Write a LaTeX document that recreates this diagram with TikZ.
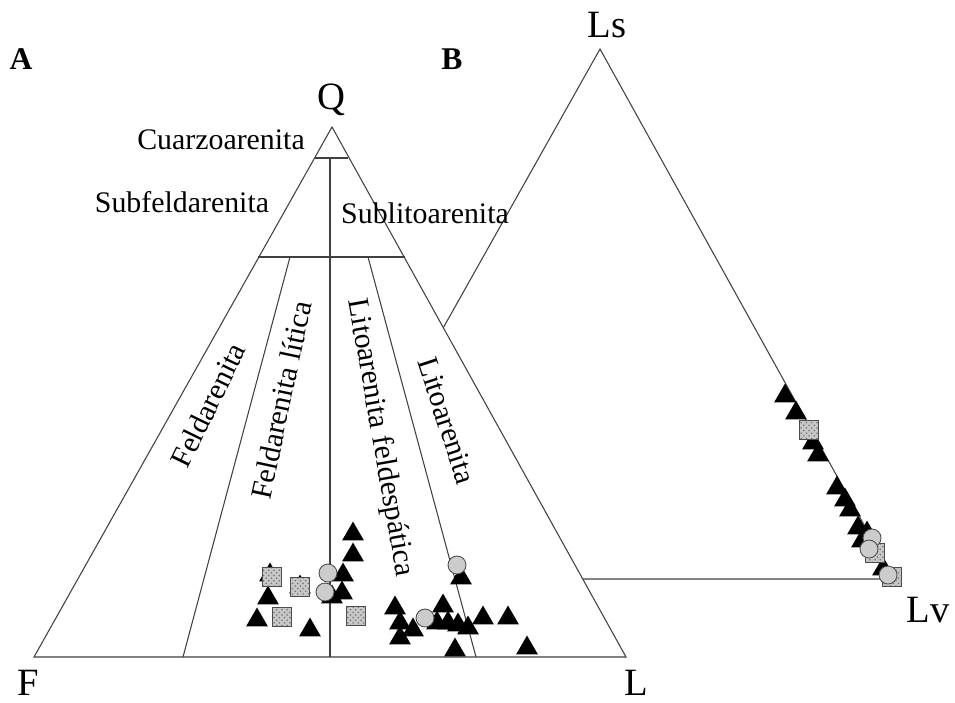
\documentclass[tikz,border=0pt]{standalone}
\usepackage{fontspec}
\setmainfont{Liberation Serif}
\usetikzlibrary{shapes.geometric,patterns}
\tikzset{
	tline/.style={draw=black!75,line width=0.6pt},
	region/.style={font=\fontsize{17}{20}\selectfont,inner sep=0pt},
	apex/.style={font=\fontsize{22}{26}\selectfont,inner sep=0pt},
	panel/.style={font=\fontsize{18}{21}\selectfont\bfseries,inner sep=0pt},
	ptri/.style={regular polygon,regular polygon sides=3,fill=black,minimum size=0.5cm,inner sep=0pt},
	pcirc/.style={circle,fill=black!20,draw=black!70,line width=0.5pt,minimum size=0.36cm,inner sep=0pt},
	psq/.style={rectangle,preaction={fill=black!22},pattern=crosshatch dots,pattern color=black!55,draw=black!70,line width=0.5pt,minimum size=0.38cm,inner sep=0pt}
}
\begin{document}
\begin{tikzpicture}[x=0.02cm,y=-0.02cm]
			\useasboundingbox (0,0) rectangle (955,702);
			\coordinate (F) at (34,657);
			\coordinate (L) at (626,657);
			\coordinate (Q) at (332,127);
			\coordinate (Lb) at (302,579);
			\coordinate (Lv) at (894,579);
			\coordinate (Ls) at (600,49);
			\draw[tline] (Lb) -- (Ls) -- (Lv) -- cycle;
			\draw[tline,fill=white] (F) -- (Q) -- (L) -- cycle;
			\coordinate (c1) at (315,158);
			\coordinate (c2) at (348,158);
			\coordinate (s1) at (258,257);
			\coordinate (s2) at (405,257);
			\coordinate (m1) at (290,257);
			\coordinate (m2) at (368,257);
			\coordinate (b1) at (183,657);
			\coordinate (b2) at (476,657);
			\coordinate (v1) at (330,158);
			\coordinate (v2) at (330,657);
			\draw[tline] (c1) -- (c2);
			\draw[tline] (s1) -- (s2);
			\draw[tline] (v1) -- (v2);
			\draw[tline] (m1) -- (b1);
			\draw[tline] (m2) -- (b2);
			\node[panel] (pA) at (21,59) {A};
			\node[panel] (pB) at (452,59) {B};
			\node[apex] (nQ) at (331,100) {Q};
			\node[apex] (nF) at (28,683) {F};
			\node[apex] (nL) at (636,683) {L};
			\node[apex] (nLs) at (607,25) {Ls};
			\node[apex] (nLv) at (928,610) {Lv};
			\node[region] (cuarzo) at (221,140) {Cuarzoarenita};
			\node[region] (subfeld) at (182,202) {Subfeldarenita};
			\node[region] (sublito) at (425,213) {Sublitoarenita};
			\node[region,rotate=64] (feld) at (208,405) {Feldarenita};
			\node[region,rotate=78] (feldlit) at (281,400) {Feldarenita lítica};
			\node[region,rotate=-80] (litofeld) at (380,438) {Litoarenita feldespática};
			\node[region,rotate=-72] (lito) at (447,421) {Litoarenita};
			\foreach \x/\y [count=\i] in {268/595,257/617,310/627,270/572,300/584,353/531,353/552,343/572,342/590,332/594,
				461/575,395/605,400/620,400/635,413/627,443/603,437/620,448/620,458/622,468/625,483/615,508/615,455/647,527/645,
				785/393,796/410,813/440,818/452,837/485,845/497,850/507,858/525,867/530,862/538,883/566}
				\node[ptri] (t\i) at (\x,\y+3) {};
			\foreach \x/\y [count=\i] in {272/577,300/587,282/617,356/616,809/430,875/553,892/577}
				\node[psq] (q\i) at (\x,\y) {};
			\foreach \x/\y [count=\i] in {328/573,325/592,457/565,425/618,872/538,869/549,888/575}
				\node[pcirc] (o\i) at (\x,\y) {};
		\end{tikzpicture}
\end{document}
